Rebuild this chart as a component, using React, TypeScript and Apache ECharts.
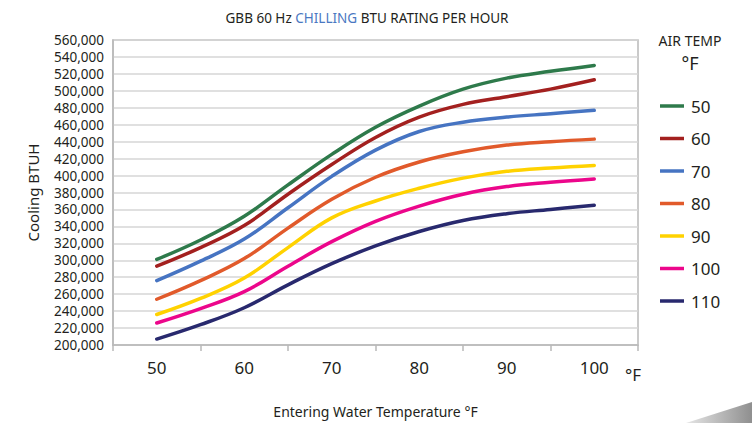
import React, { useEffect, useRef } from "react";
import * as echarts from "echarts";

const categories = ["50", "60", "70", "80", "90", "100"];
const waterTemps = [50, 55, 60, 65, 70, 75, 80, 85, 90, 95, 100];
const airTemps = ["50", "60", "70", "80", "90", "100", "110"];

const air50 = [301000, 324000, 352000, 389000, 425000, 457000, 482000, 502000, 515000, 523000, 530000];
const air60 = [293000, 315000, 341000, 378000, 413000, 445000, 469000, 484000, 493000, 502000, 513000];
const air70 = [276000, 299000, 325000, 362000, 399000, 430000, 452000, 463000, 469000, 473000, 477000];
const air80 = [254000, 276000, 302000, 338000, 372000, 398000, 416000, 428000, 436000, 440000, 443000];
const air90 = [236000, 255000, 279000, 315000, 350000, 370000, 385000, 397000, 405000, 409000, 412000];
const air100 = [226000, 243000, 263000, 293000, 322000, 346000, 364000, 378000, 387000, 392000, 396000];
const air110 = [207000, 224000, 244000, 271000, 296000, 317000, 334000, 347000, 355000, 360000, 365000];

const seriesValues = [air50, air60, air70, air80, air90, air100, air110];
const colors = ["#2e7a4b", "#a3201f", "#4674c2", "#e15a2b", "#ffd200", "#ec068b", "#28296e"];

const FONT = "Noto Sans";
const TXT = "#231f20";

export default function App() {
  const ref = useRef<HTMLDivElement>(null);
  useEffect(() => {
    if (!ref.current) return;
    const chart = echarts.init(ref.current, undefined, { renderer: "svg" });
    chart.setOption({
      animation: false,
      backgroundColor: "#ffffff",
      grid: {
        left: 113,
        right: 114,
        top: 40,
        bottom: 72,
        show: true,
        borderColor: "#b9b9b9",
        borderWidth: 1.5,
      },
      legend: {
        data: airTemps,
        orient: "vertical",
        left: 655,
        top: 91,
        icon: "rect",
        itemWidth: 24,
        itemHeight: 3.5,
        itemGap: 12.5,
        textStyle: { fontFamily: FONT, fontSize: 17, color: TXT, lineHeight: 20, padding: [0, 0, 0, 2] },
      },
      xAxis: [
        {
          type: "category",
          data: categories,
          boundaryGap: true,
          axisLine: { lineStyle: { color: "#b9b9b9", width: 1.5 } },
          axisTick: { show: true, length: 6, lineStyle: { color: "#b9b9b9", width: 1.5 } },
          axisLabel: { fontFamily: FONT, fontSize: 17, color: TXT, margin: 14 },
          splitLine: { show: false },
          name: "{t|Entering Water Temperature }{s|°}{t|F}",
          nameLocation: "middle",
          nameGap: 59,
          nameTextStyle: {
            rich: {
              t: { fontFamily: FONT, fontSize: 14, color: TXT },
              s: { fontFamily: FONT, fontSize: 14, color: TXT },
            },
          },
        },
        {
          type: "value",
          min: 45,
          max: 105,
          show: false,
          position: "bottom",
        },
      ],
      yAxis: {
        type: "value",
        min: 200000,
        max: 560000,
        interval: 20000,
        axisLine: { show: true, lineStyle: { color: "#b9b9b9", width: 1.5 } },
        axisTick: { show: false },
        axisLabel: {
          fontFamily: FONT,
          fontSize: 13.5,
          color: TXT,
          margin: 9,
          formatter: (v: number) => v.toLocaleString("en-US"),
        },
        splitLine: { lineStyle: { color: "#d6d6d6", width: 1.5 } },
        name: "Cooling BTUH",
        nameLocation: "middle",
        nameGap: 73,
        nameTextStyle: { fontFamily: FONT, fontSize: 15, color: TXT },
      },
      series: seriesValues.map((vals, i) => ({
        name: airTemps[i],
        type: "line",
        xAxisIndex: 1,
        data: vals.map((v, j) => [waterTemps[j], v]),
        smooth: 0.4,
        showSymbol: false,
        lineStyle: { color: colors[i], width: 3.5, cap: "round" },
        itemStyle: { color: colors[i] },
      })),
      graphic: [
        {
          type: "text",
          x: 367,
          y: 18,
          style: {
            text: "{a|GBB 60 Hz }{b|CHILLING}{a| BTU RATING PER HOUR}",
            rich: {
              a: { fontFamily: FONT, fontSize: 13.5, fill: TXT },
              b: { fontFamily: FONT, fontSize: 13.5, fill: "#4a78c2" },
            },
            align: "center",
            verticalAlign: "middle",
          },
        },
        {
          type: "text",
          x: 690,
          y: 40,
          style: { text: "AIR TEMP", fontFamily: FONT, fontSize: 14, fill: TXT, align: "center", verticalAlign: "middle" },
        },
        {
          type: "text",
          x: 690,
          y: 63,
          style: { text: "°F", fontFamily: FONT, fontSize: 18, fill: TXT, align: "center", verticalAlign: "middle" },
        },
        {
          type: "text",
          x: 633,
          y: 374,
          style: { text: "°F", fontFamily: FONT, fontSize: 17, fill: TXT, align: "center", verticalAlign: "middle" },
        },
        {
          type: "polygon",
          shape: { points: [[686, 423], [752, 402], [752, 423]] },
          style: {
            fill: new echarts.graphic.LinearGradient(0, 0, 1, 0, [
              { offset: 0, color: "#e6e6e6" },
              { offset: 1, color: "#8f8f8f" },
            ]),
          },
        },
      ],
    });
    return () => chart.dispose();
  }, []);
  return <div ref={ref} style={{ position: "fixed", left: 0, top: 0, width: 752, height: 423 }} />;
}
